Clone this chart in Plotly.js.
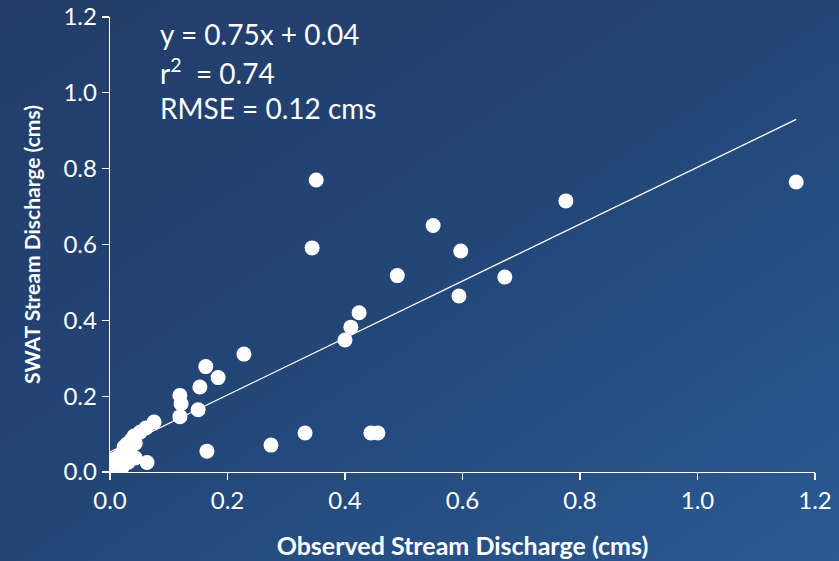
<!DOCTYPE html>
<html>
<head>
<meta charset="utf-8">
<script src="https://cdn.plot.ly/plotly-3.0.1.min.js"></script>
<style>
  html, body { margin: 0; padding: 0; }
  body {
    width: 839px; height: 561px; overflow: hidden;
    background: linear-gradient(to bottom right, #233c68 0%, #234677 50%, #2a5a93 100%);
  }
  #chart { width: 839px; height: 561px; }
</style>
</head>
<body>
<div id="chart"></div>
<script>
// Observed vs SWAT simulated stream discharge (cms)
const observed = [
  0.351, 0.344, 0.550, 0.597, 0.776, 1.168, 0.489, 0.594, 0.672,
  0.424, 0.410, 0.400, 0.228, 0.163, 0.184, 0.153, 0.119, 0.121,
  0.150, 0.119, 0.075, 0.165, 0.274, 0.332, 0.444, 0.456, 0.063,
  0.061, 0.051, 0.041, 0.036, 0.029, 0.024, 0.043, 0.034, 0.019,
  0.009, 0.000, 0.000, 0.009, 0.020, 0.031, 0.043, 0.003, 0.015
];
const simulated = [
  0.770, 0.591, 0.650, 0.583, 0.715, 0.765, 0.518, 0.464, 0.514,
  0.420, 0.382, 0.348, 0.311, 0.278, 0.249, 0.224, 0.202, 0.180,
  0.164, 0.146, 0.132, 0.055, 0.071, 0.103, 0.103, 0.103, 0.025,
  0.116, 0.105, 0.095, 0.084, 0.074, 0.066, 0.076, 0.061, 0.047,
  0.034, 0.032, 0.016, 0.021, 0.011, 0.026, 0.037, 0.024, 0.040
];
// Linear trendline endpoints as drawn
const trendX = [0.0, 1.168];
const trendY = [0.053, 0.930];
const tickVals = [0, 0.2, 0.4, 0.6, 0.8, 1.0, 1.2];
const tickText = ['0.0', '0.2', '0.4', '0.6', '0.8', '1.0', '1.2'];
const statLines = ['y = 0.75x + 0.04', 'r<sup>2</sup>  = 0.74', 'RMSE = 0.12 cms'];

const FONT = 'Lato, "Open Sans", sans-serif';
const WHITE = '#ffffff';

const traces = [
  {
    x: trendX, y: trendY, type: 'scatter', mode: 'lines',
    line: { color: WHITE, width: 1.3 }, hoverinfo: 'skip', showlegend: false
  },
  {
    x: observed, y: simulated, type: 'scatter', mode: 'markers',
    marker: { color: WHITE, size: 15, line: { width: 0 } },
    showlegend: false
  }
];

const axisCommon = {
  range: [0, 1.2], tickvals: tickVals, ticktext: tickText,
  showgrid: false, zeroline: false,
  showline: true, linecolor: WHITE, linewidth: 1.3,
  ticks: 'outside', ticklen: 7, tickcolor: WHITE, tickwidth: 1.3,
  tickfont: { family: FONT, size: 24, color: WHITE },
  fixedrange: true
};

const layout = {
  width: 839, height: 561,
  margin: { l: 110, r: 24, t: 17, b: 89 },
  paper_bgcolor: 'rgba(0,0,0,0)',
  plot_bgcolor: 'rgba(0,0,0,0)',
  font: { family: FONT, color: WHITE },
  xaxis: Object.assign({}, axisCommon, {
    title: { text: 'Observed Stream Discharge (cms)', standoff: 24,
             font: { family: FONT, size: 25, color: WHITE, weight: 'bold' } }
  }),
  yaxis: Object.assign({}, axisCommon, {
    title: { text: 'SWAT Stream Discharge (cms)', standoff: 17,
             font: { family: FONT, size: 21, color: WHITE, weight: 'bold' } }
  }),
  annotations: statLines.map((t, i) => ({
    xref: 'paper', yref: 'paper',
    x: (158 - 110) / 705, y: 1 - (34 + 37 * i - 17) / 455,
    xanchor: 'left', yanchor: 'middle', showarrow: false,
    text: t, font: { family: FONT, size: 28, color: WHITE }
  }))
};

Plotly.newPlot('chart', traces, layout, { displayModeBar: false, staticPlot: true });
</script>
</body>
</html>
